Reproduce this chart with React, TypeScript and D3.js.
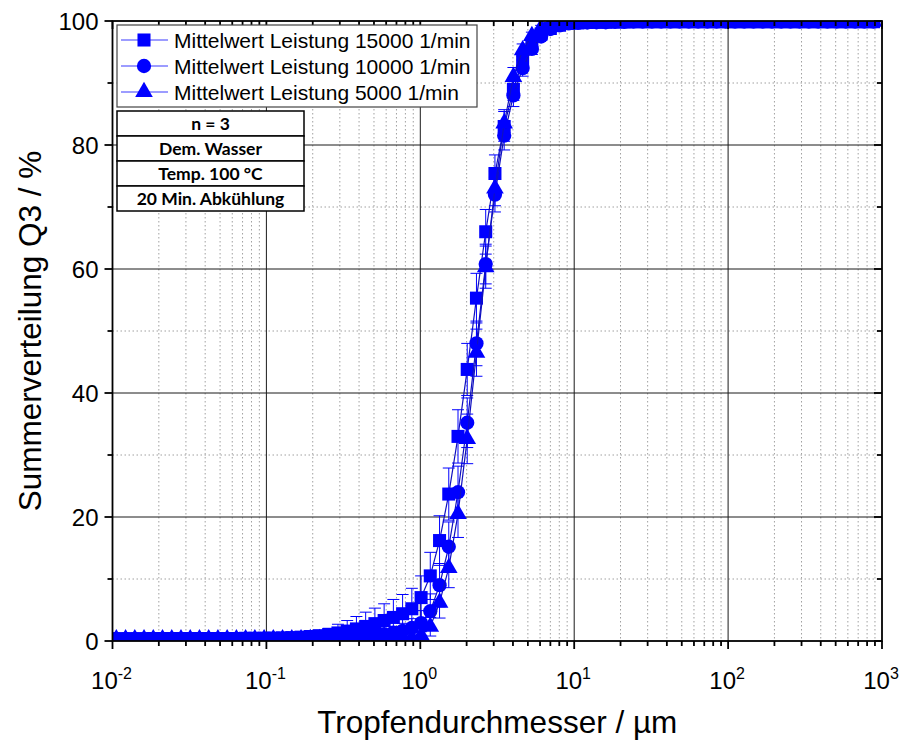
import React from "react";
import * as d3 from "d3";

// Particle size classes (µm)
const sizes = [
  0.01059, 0.01216, 0.01396, 0.01603, 0.01841, 0.02113, 0.02427, 0.02786, 0.03199, 0.03673, 0.04217, 0.04842, 0.05559, 0.06383, 0.07328, 0.08414, 0.09661,
  0.1109, 0.1273, 0.1462, 0.1679, 0.1928, 0.2213, 0.2541, 0.2917, 0.335, 0.3846, 0.4416, 0.507, 0.5821, 0.6683, 0.7674, 0.8811,
  1.012, 1.161, 1.334, 1.531, 1.758, 2.018, 2.317, 2.661, 3.055, 3.508, 4.027, 4.624, 5.309, 6.095, 6.998, 8.035, 9.226,
  10.59, 12.16, 13.96, 16.03, 18.41, 21.13, 24.27, 27.86, 31.99, 36.73, 42.17, 48.42, 55.59, 63.83, 73.28, 84.14, 96.61,
  110.9, 127.3, 146.2, 167.9, 192.8, 221.3, 254.1, 291.7, 335.0, 384.6, 441.6, 507.0, 582.1, 668.3, 767.4, 881.1,
];

// Mean cumulative distribution Q3 (%) at 15000 1/min
const q3Rpm15000 = [
  0.36, 0.36, 0.37, 0.37, 0.38, 0.38, 0.38, 0.39, 0.39, 0.4, 0.4, 0.41, 0.41, 0.42, 0.43, 0.44, 0.45,
  0.47, 0.5, 0.55, 0.62, 0.72, 0.86, 1.05, 1.3, 1.6, 1.95, 2.35, 2.8, 3.3, 3.8, 4.4, 5.2,
  7.0, 10.5, 16.2, 23.7, 33.0, 43.8, 55.3, 66.0, 75.4, 83.0, 89.0, 93.5, 96.3, 97.9, 98.8, 99.3, 99.6,
  99.7, 99.75, 99.8, 99.8, 99.85, 99.85, 99.9, 99.9, 99.9, 99.9, 99.9, 99.9, 99.9, 99.9, 99.9, 99.9, 99.9,
  99.9, 99.9, 99.9, 99.9, 99.9, 99.9, 99.9, 99.9, 99.9, 99.9, 99.9, 99.9, 99.9, 99.9, 99.9, 99.9,
];
const sdRpm15000 = [
  0.15, 0.15, 0.15, 0.15, 0.15, 0.15, 0.15, 0.15, 0.15, 0.15, 0.15, 0.15, 0.15, 0.15, 0.15, 0.15, 0.2,
  0.25, 0.3, 0.35, 0.45, 0.55, 0.75, 1.0, 1.4, 1.7, 2.0, 2.3, 2.5, 2.7, 2.9, 3.1, 3.3,
  3.5, 3.8, 4.0, 4.2, 4.3, 4.2, 4.0, 3.6, 3.0, 2.4, 1.8, 1.3, 0.9, 0.6, 0.4, 0.3, 0.2,
  0.15, 0.15, 0.1, 0.1, 0.1, 0.1, 0.1, 0.1, 0.1, 0.1, 0.1, 0.1, 0.1, 0.1, 0.1, 0.1, 0.1,
  0.1, 0.1, 0.1, 0.1, 0.1, 0.1, 0.1, 0.1, 0.1, 0.1, 0.1, 0.1, 0.1, 0.1, 0.1, 0.1,
];

// Mean cumulative distribution Q3 (%) at 10000 1/min
const q3Rpm10000 = [
  0.34, 0.34, 0.34, 0.35, 0.35, 0.35, 0.35, 0.35, 0.35, 0.35, 0.35, 0.35, 0.35, 0.35, 0.35, 0.36, 0.36,
  0.36, 0.37, 0.38, 0.4, 0.42, 0.45, 0.5, 0.55, 0.62, 0.7, 0.8, 0.95, 1.1, 1.35, 1.65, 2.1,
  2.9, 4.8, 9.0, 15.2, 24.0, 35.2, 48.0, 60.8, 72.0, 81.5, 88.0, 92.4, 95.5, 97.5, 98.7, 99.3, 99.6,
  99.7, 99.75, 99.8, 99.8, 99.85, 99.85, 99.9, 99.9, 99.9, 99.9, 99.9, 99.9, 99.9, 99.9, 99.9, 99.9, 99.9,
  99.9, 99.9, 99.9, 99.9, 99.9, 99.9, 99.9, 99.9, 99.9, 99.9, 99.9, 99.9, 99.9, 99.9, 99.9, 99.9,
];
const sdRpm10000 = [
  0.1, 0.1, 0.1, 0.1, 0.1, 0.1, 0.1, 0.1, 0.1, 0.1, 0.1, 0.1, 0.1, 0.1, 0.1, 0.1, 0.1,
  0.12, 0.13, 0.15, 0.17, 0.2, 0.25, 0.3, 0.35, 0.4, 0.5, 0.6, 0.7, 0.8, 1.0, 1.2, 1.5,
  2.0, 2.8, 3.5, 4.0, 4.2, 4.0, 3.6, 3.2, 2.8, 2.3, 1.8, 1.3, 0.9, 0.6, 0.4, 0.3, 0.2,
  0.15, 0.15, 0.1, 0.1, 0.1, 0.1, 0.1, 0.1, 0.1, 0.1, 0.1, 0.1, 0.1, 0.1, 0.1, 0.1, 0.1,
  0.1, 0.1, 0.1, 0.1, 0.1, 0.1, 0.1, 0.1, 0.1, 0.1, 0.1, 0.1, 0.1, 0.1, 0.1, 0.1,
];

// Mean cumulative distribution Q3 (%) at 5000 1/min
const q3Rpm5000 = [
  0.3, 0.3, 0.3, 0.3, 0.3, 0.3, 0.3, 0.3, 0.3, 0.3, 0.3, 0.3, 0.3, 0.3, 0.3, 0.3, 0.3,
  0.3, 0.3, 0.31, 0.31, 0.32, 0.32, 0.33, 0.33, 0.34, 0.35, 0.36, 0.37, 0.38, 0.4, 0.42, 0.5,
  0.9, 2.3, 6.2, 11.8, 20.5, 32.6, 46.5, 60.3, 73.0, 83.5, 91.0, 95.3, 97.6, 98.9, 99.4, 99.7, 99.8,
  99.85, 99.85, 99.9, 99.9, 99.9, 99.9, 99.9, 99.9, 99.9, 99.9, 99.9, 99.9, 99.9, 99.9, 99.9, 99.9, 99.9,
  99.9, 99.9, 99.9, 99.9, 99.9, 99.9, 99.9, 99.9, 99.9, 99.9, 99.9, 99.9, 99.9, 99.9, 99.9, 99.9,
];
const sdRpm5000 = [
  0.05, 0.05, 0.05, 0.05, 0.05, 0.05, 0.05, 0.05, 0.05, 0.05, 0.05, 0.05, 0.05, 0.05, 0.05, 0.05, 0.05,
  0.05, 0.05, 0.05, 0.05, 0.06, 0.06, 0.07, 0.08, 0.09, 0.1, 0.11, 0.12, 0.14, 0.16, 0.2, 0.3,
  0.6, 1.5, 2.5, 3.2, 3.8, 4.0, 3.8, 3.4, 2.8, 2.2, 1.5, 1.0, 0.6, 0.4, 0.25, 0.15, 0.1,
  0.1, 0.1, 0.1, 0.1, 0.1, 0.1, 0.1, 0.1, 0.1, 0.1, 0.1, 0.1, 0.1, 0.1, 0.1, 0.1, 0.1,
  0.1, 0.1, 0.1, 0.1, 0.1, 0.1, 0.1, 0.1, 0.1, 0.1, 0.1, 0.1, 0.1, 0.1, 0.1, 0.1,
];

const seriesNames = [
  "Mittelwert Leistung 15000 1/min",
  "Mittelwert Leistung 10000 1/min",
  "Mittelwert Leistung 5000 1/min",
];
const infoRows = ["n = 3", "Dem. Wasser", "Temp. 100 °C", "20 Min. Abkühlung"];
const yTicks = [0, 20, 40, 60, 80, 100];
const yMinorTicks = [10, 30, 50, 70, 90];
const xDecades = [-2, -1, 0, 1, 2, 3];

const FONT = "'Liberation Sans', Arial, sans-serif";
const BLUE = "#0000ff";

export default function App() {
  const W = 903;
  const H = 740;
  const left = 112.5;
  const right = 882;
  const top = 21;
  const bottom = 641;

  const x = d3.scaleLog().domain([0.01, 1000]).range([left, right]);
  const y = d3.scaleLinear().domain([0, 100]).range([bottom, top]);

  const majorX = xDecades.map((e) => Math.pow(10, e));
  const minorX: number[] = [];
  xDecades.slice(0, -1).forEach((e) => {
    for (let k = 2; k <= 9; k++) minorX.push(k * Math.pow(10, e));
  });

  const series = [
    { name: seriesNames[0], values: q3Rpm15000, errors: sdRpm15000, symbol: d3.symbolSquare, area: 170 },
    { name: seriesNames[1], values: q3Rpm10000, errors: sdRpm10000, symbol: d3.symbolCircle, area: 160 },
    { name: seriesNames[2], values: q3Rpm5000, errors: sdRpm5000, symbol: d3.symbolTriangle, area: 135 },
  ];

  const line = d3
    .line<number>()
    .x((_, i) => x(sizes[i]))
    .y((v) => y(v));

  const capHalf = 6;

  return (
    <svg
      width={W}
      height={H}
      style={{ position: "absolute", left: 0, top: 0, background: "#fff" }}
      fontFamily={FONT}
    >
      <defs>
        <clipPath id="plotClip">
          <rect x={left} y={top} width={right - left} height={bottom - top} />
        </clipPath>
      </defs>
      <rect x={0} y={0} width={W} height={H} fill="#fff" />

      {/* minor grid */}
      <g stroke="#a0a0a0" strokeWidth={1} strokeDasharray="1.5,2.5">
        {minorX.map((v) => (
          <line key={"mx" + v} x1={x(v)} x2={x(v)} y1={top} y2={bottom} />
        ))}
        {yMinorTicks.map((v) => (
          <line key={"my" + v} x1={left} x2={right} y1={y(v)} y2={y(v)} />
        ))}
      </g>
      {/* major grid */}
      <g stroke="#1a1a1a" strokeWidth={1}>
        {majorX.slice(1, -1).map((v) => (
          <line key={"gx" + v} x1={x(v)} x2={x(v)} y1={top} y2={bottom} />
        ))}
        {yTicks.slice(1, -1).map((v) => (
          <line key={"gy" + v} x1={left} x2={right} y1={y(v)} y2={y(v)} />
        ))}
      </g>

      {/* data */}
      <g clipPath="url(#plotClip)">
        {series.map((s, si) => (
          <g key={"s" + si}>
            <g stroke={BLUE} strokeWidth={1}>
              {s.values.map((v, i) => {
                const cx = x(sizes[i]);
                const y1 = y(v + s.errors[i]);
                const y0 = y(v - s.errors[i]);
                return (
                  <g key={i}>
                    <line x1={cx} x2={cx} y1={y1} y2={y0} />
                    <line x1={cx - capHalf} x2={cx + capHalf} y1={y1} y2={y1} />
                    <line x1={cx - capHalf} x2={cx + capHalf} y1={y0} y2={y0} />
                  </g>
                );
              })}
            </g>
            <path d={line(s.values) || ""} fill="none" stroke="#1010c0" strokeWidth={1.2} />
            <g fill={BLUE}>
              {s.values.map((v, i) => (
                <path
                  key={i}
                  d={d3.symbol().type(s.symbol).size(s.area)() || ""}
                  transform={`translate(${x(sizes[i])},${y(v)})`}
                />
              ))}
            </g>
          </g>
        ))}
      </g>

      {/* frame */}
      <rect x={left} y={top} width={right - left} height={bottom - top} fill="none" stroke="#000" strokeWidth={1.8} />

      {/* ticks */}
      <g stroke="#000" strokeWidth={1.8}>
        {majorX.map((v) => (
          <g key={"tx" + v}>
            <line x1={x(v)} x2={x(v)} y1={bottom} y2={bottom + 8} />
            <line x1={x(v)} x2={x(v)} y1={top} y2={top + 8} />
          </g>
        ))}
        {minorX.map((v) => (
          <g key={"tmx" + v}>
            <line x1={x(v)} x2={x(v)} y1={bottom} y2={bottom + 5} />
            <line x1={x(v)} x2={x(v)} y1={top} y2={top + 5} />
          </g>
        ))}
        {yTicks.map((v) => (
          <g key={"ty" + v}>
            <line x1={left - 8} x2={left} y1={y(v)} y2={y(v)} />
            <line x1={right - 8} x2={right} y1={y(v)} y2={y(v)} />
          </g>
        ))}
        {yMinorTicks.map((v) => (
          <g key={"tmy" + v}>
            <line x1={left - 5} x2={left} y1={y(v)} y2={y(v)} />
            <line x1={right - 5} x2={right} y1={y(v)} y2={y(v)} />
          </g>
        ))}
      </g>

      {/* tick labels */}
      <g fontSize={24} fill="#000">
        {yTicks.map((v) => (
          <text key={"ly" + v} x={left - 14} y={y(v) + 8.5} textAnchor="end">
            {v}
          </text>
        ))}
        {xDecades.map((e) => (
          <text key={"lx" + e} x={x(Math.pow(10, e)) - 1} y={689} textAnchor="middle">
            10
            <tspan fontSize={16} dy={-10}>
              {e}
            </tspan>
          </text>
        ))}
      </g>

      {/* axis titles */}
      <text x={(left + right) / 2} y={733} textAnchor="middle" fontSize={31.5} fill="#000">
        Tropfendurchmesser / µm
      </text>
      <text
        transform={`translate(41,${(top + bottom) / 2}) rotate(-90)`}
        textAnchor="middle"
        fontSize={31.5}
        fill="#000"
      >
        Summerverteilung Q3 / %
      </text>

      {/* legend */}
      <g>
        <rect x={117} y={25} width={360} height={82} fill="#fff" stroke="#444" strokeWidth={1.2} />
        {series.map((s, i) => {
          const cy = 40 + i * 26;
          return (
            <g key={"lg" + i}>
              <line x1={121} x2={168} y1={cy} y2={cy} stroke="#3a3aff" strokeWidth={1.2} />
              <path
                d={d3.symbol().type(s.symbol).size(s.area)() || ""}
                transform={`translate(144,${cy})`}
                fill={BLUE}
              />
              <text x={174} y={cy + 7.5} fontSize={21} fill="#000">
                {s.name}
              </text>
            </g>
          );
        })}
      </g>

      {/* info table */}
      <g>
        {infoRows.map((r, i) => (
          <g key={"ir" + i}>
            <rect x={117} y={111 + i * 25} width={187} height={25} fill="#fff" stroke="#000" strokeWidth={1.5} />
            <text
              x={210.5}
              y={111 + i * 25 + 18.5}
              textAnchor="middle"
              fontSize={17.5}
              fontWeight="bold"
              fontFamily="Lato, 'Open Sans', sans-serif"
              fill="#000"
            >
              {r}
            </text>
          </g>
        ))}
      </g>
    </svg>
  );
}
